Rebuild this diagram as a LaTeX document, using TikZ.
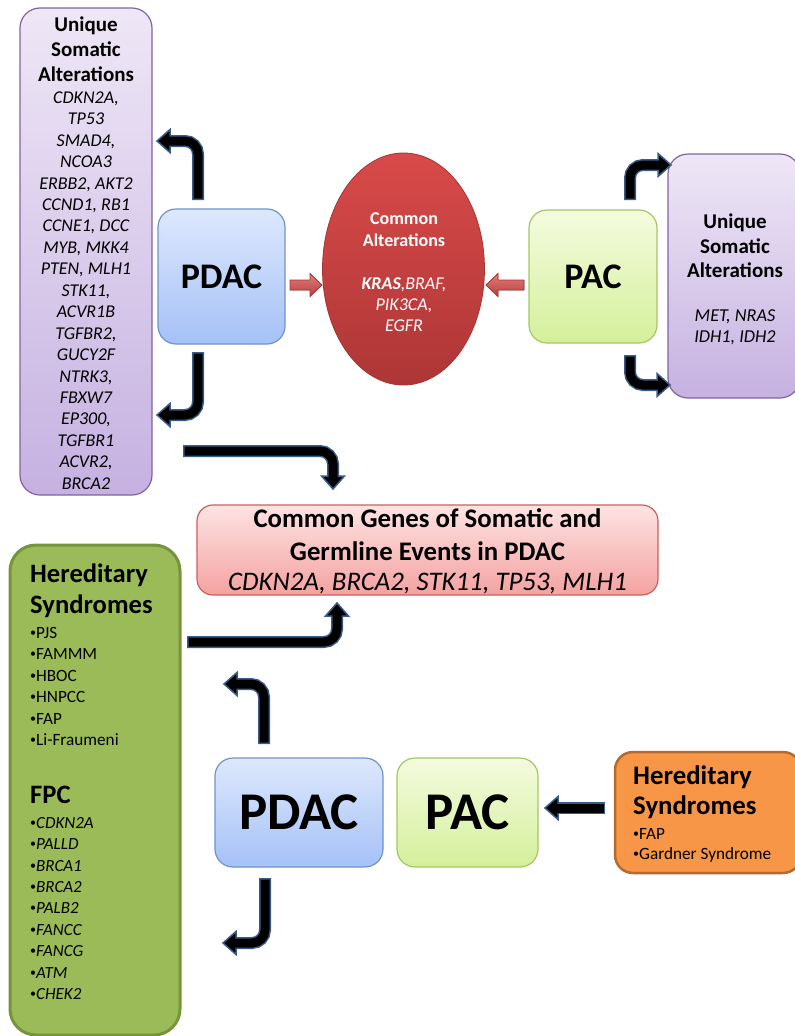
\documentclass[tikz,border=0pt]{standalone}
\usepackage{fontspec}
\setmainfont{Carlito}
\usetikzlibrary{shapes.geometric,calc}
\definecolor{arrbd}{HTML}{385D8A}
\definecolor{purpbd}{HTML}{8064A2}
\definecolor{purptop}{HTML}{EEE7F6}
\definecolor{purpbot}{HTML}{C6B1E1}
\definecolor{bluebd}{HTML}{6F93CC}
\definecolor{bluetop}{HTML}{DDE8FD}
\definecolor{bluebot}{HTML}{A5C1F7}
\definecolor{grnbd}{HTML}{A6C663}
\definecolor{grntop}{HTML}{F4FBDF}
\definecolor{grnbot}{HTML}{D4F09B}
\definecolor{redtop}{HTML}{D94A4A}
\definecolor{redbot}{HTML}{AE3636}
\definecolor{redbd}{HTML}{A33533}
\definecolor{pinktop}{HTML}{FDE4E3}
\definecolor{pinkbot}{HTML}{F4A2A1}
\definecolor{pinkbd}{HTML}{C9605D}
\definecolor{olive}{HTML}{9BBB59}
\definecolor{olivebd}{HTML}{77933C}
\definecolor{orng}{HTML}{F79646}
\definecolor{orngbd}{HTML}{B66A2E}
\definecolor{smarrtop}{HTML}{E57D79}
\definecolor{smarrbot}{HTML}{B5403D}
\newcommand\fs[2]{\fontsize{#1}{#2}\selectfont}
\newcommand\bul{{\fontsize{12}{12}\selectfont\raisebox{2pt}{•}}}
\tikzset{
  pbox/.style={draw=purpbd, line width=1.2pt, rounded corners=20pt, top color=purptop, bottom color=purpbot},
  bbox/.style={draw=bluebd, line width=1.2pt, rounded corners=18pt, top color=bluetop, bottom color=bluebot},
  gbox/.style={draw=grnbd, line width=1.2pt, rounded corners=18pt, top color=grntop, bottom color=grnbot},
  pkbox/.style={draw=pinkbd, line width=1.2pt, rounded corners=16pt, top color=pinktop, bottom color=pinkbot},
  obox/.style={draw=olivebd, line width=3pt, rounded corners=26pt, fill=olive},
  orbox/.style={draw=orngbd, line width=2.5pt, rounded corners=18pt, fill=orng},
  redell/.style={ellipse, draw=redbd, line width=0.8pt, top color=redtop, bottom color=redbot, inner sep=0pt},
  arrout/.style={line width=12pt, draw=arrbd, rounded corners=13pt, line cap=rect, shorten >=14pt},
  arrin/.style={line width=9pt, draw=black, rounded corners=13pt, line cap=rect, shorten >=13pt},
  arrhead/.style={fill=black, draw=arrbd, line width=1.5pt, line join=miter},
  smarr/.style={top color=smarrtop, bottom color=smarrbot, draw=redbd, line width=0.8pt},
  txt/.style={inner sep=0pt, align=center},
  ltxt/.style={inner sep=0pt, align=left, anchor=west},
}
% #1 path, #2 tip coordinate name, #3 direction angle
\newcommand\bentarrow[3]{%
  \draw[arrout] #1;
  \filldraw[arrhead, shift={(#2)}, rotate=#3] (0,0) -- (-13,11.5) -- (-13,-11.5) -- cycle;
  \draw[arrin] #1;
}
\begin{document}
\begin{tikzpicture}[x=1pt,y=-1pt]
\useasboundingbox (0,0) rectangle (795,1036);

% ---------- top part ----------
\node[pbox, minimum width=132, minimum height=487] (lpurp) at (86,251.5) {};
\node[txt, font=\bfseries\fs{21}{25}] (lpurpT) at (86,49) {Unique\\Somatic\\Alterations};
\node[txt, font=\itshape\fs{18}{21.45}] (lpurpG) at (86,290.5) {CDKN2A,\\TP53\\SMAD4,\\NCOA3\\ERBB2, AKT2\\CCND1, RB1\\CCNE1, DCC\\MYB, MKK4\\PTEN, MLH1\\STK11,\\ACVR1B\\TGFBR2,\\GUCY2F\\NTRK3,\\FBXW7\\EP300,\\TGFBR1\\ACVR2,\\BRCA2};

\node[bbox, minimum width=127, minimum height=135, font=\bfseries\fs{36}{40}] (pdac1) at (221.5,276.5) {PDAC};
\node[gbox, minimum width=128, minimum height=133, font=\bfseries\fs{36}{40}] (pac1) at (593,276.5) {PAC};

\node[redell, minimum width=162, minimum height=232] (common) at (403.5,269) {};
\node[txt, text=white, font=\bfseries\fs{18}{22}] (commonT) at (404,229.5) {Common\\Alterations};
\node[txt, text=white, font=\itshape\fs{18}{21}] (commonG) at (404,304.5) {{\bfseries KRAS},BRAF,\\PIK3CA,\\EGFR};

\node[pbox, minimum width=132, minimum height=244] (rpurp) at (734,276) {};
\node[txt, font=\bfseries\fs{21}{24.5}] (rpurpT) at (735,246) {Unique\\Somatic\\Alterations};
\node[txt, font=\itshape\fs{18.2}{21}] (rpurpG) at (735,327) {MET, NRAS\\IDH1, IDH2};

% small red arrows
\filldraw[smarr] (290,280) -- (310,280) -- (310,273.5) -- (322,285) -- (310,296.5) -- (310,290) -- (290,290) -- cycle;
\filldraw[smarr] (524,280) -- (498,280) -- (498,273.5) -- (486,285) -- (498,296.5) -- (498,290) -- (524,290) -- cycle;

% bent arrows top
\coordinate (a1s) at (198,194);  \coordinate (a1t) at (157,141);
\coordinate (a2s) at (198,358);  \coordinate (a2t) at (157,415);
\coordinate (a7s) at (630,194);  \coordinate (a7t) at (671,165);
\coordinate (a8s) at (630,361);  \coordinate (a8t) at (670,385);
\coordinate (a3s) at (189,451);  \coordinate (a3t) at (333,489);
\bentarrow{(a1s) |- (a1t)}{a1t}{180}
\bentarrow{(a2s) |- (a2t)}{a2t}{180}
\bentarrow{(a7s) |- (a7t)}{a7t}{0}
\bentarrow{(a8s) |- (a8t)}{a8t}{0}
\bentarrow{(a3s) -| (a3t)}{a3t}{270}

% ---------- middle ----------
\node[pkbox, minimum width=461, minimum height=90] (pink) at (427.5,550) {};
\node[txt, font=\bfseries\fs{26.8}{33}] (pinkT) at (427.5,535) {Common Genes of Somatic and\\Germline Events in PDAC};
\node[txt, font=\itshape\fs{26.8}{30}] (pinkG) at (427.5,584) {CDKN2A, BRCA2, STK11, TP53, MLH1};

% ---------- bottom ----------
\node[obox, minimum width=170, minimum height=490] (green) at (95,790) {};
\node[ltxt, font=\bfseries\fs{26.6}{30.5}] (greenT) at (30,591) {Hereditary\\Syndromes};
\node[ltxt, font=\fs{17.2}{21.4}] (greenB) at (30,686.5) {\bul PJS\\\bul FAMMM\\\bul HBOC\\\bul HNPCC\\\bul FAP\\\bul Li-Fraumeni};
\node[ltxt, font=\bfseries\fs{26.6}{30}] (fpcT) at (30,795) {FPC};
\node[ltxt, font=\fs{17}{21.4}] (fpcB) at (30,908.5) {\bul\textit{CDKN2A}\\\bul\textit{PALLD}\\\bul\textit{BRCA1}\\\bul\textit{BRCA2}\\\bul\textit{PALB2}\\\bul\textit{FANCC}\\\bul\textit{FANCG}\\\bul\textit{ATM}\\\bul\textit{CHEK2}};

\node[bbox, minimum width=168, minimum height=109, font=\bfseries\fs{53}{60}] (pdac2) at (299,812.5) {PDAC};
\node[gbox, minimum width=141, minimum height=109, font=\bfseries\fs{53}{60}] (pac2) at (467.5,812.5) {PAC};
\node[orbox, minimum width=186, minimum height=121] (orange) at (708,812.5) {};
\node[ltxt, font=\bfseries\fs{26.8}{30}] (orangeT) at (633,792) {Hereditary\\Syndromes};
\node[ltxt, font=\fs{17.2}{20}] (orangeB) at (633,845.5) {\bul FAP\\\bul Gardner Syndrome};

\coordinate (a4s) at (193,642);  \coordinate (a4t) at (337,603);
\coordinate (a5s) at (264,738);  \coordinate (a5t) at (224,684);
\coordinate (a6s) at (265,884);  \coordinate (a6t) at (223,943);
\coordinate (a9s) at (599,808);  \coordinate (a9t) at (545,808);
\bentarrow{(a4s) -| (a4t)}{a4t}{90}
\bentarrow{(a5s) |- (a5t)}{a5t}{180}
\bentarrow{(a6s) |- (a6t)}{a6t}{180}
\bentarrow{(a9s) -- (a9t)}{a9t}{180}
\end{tikzpicture}
\end{document}
